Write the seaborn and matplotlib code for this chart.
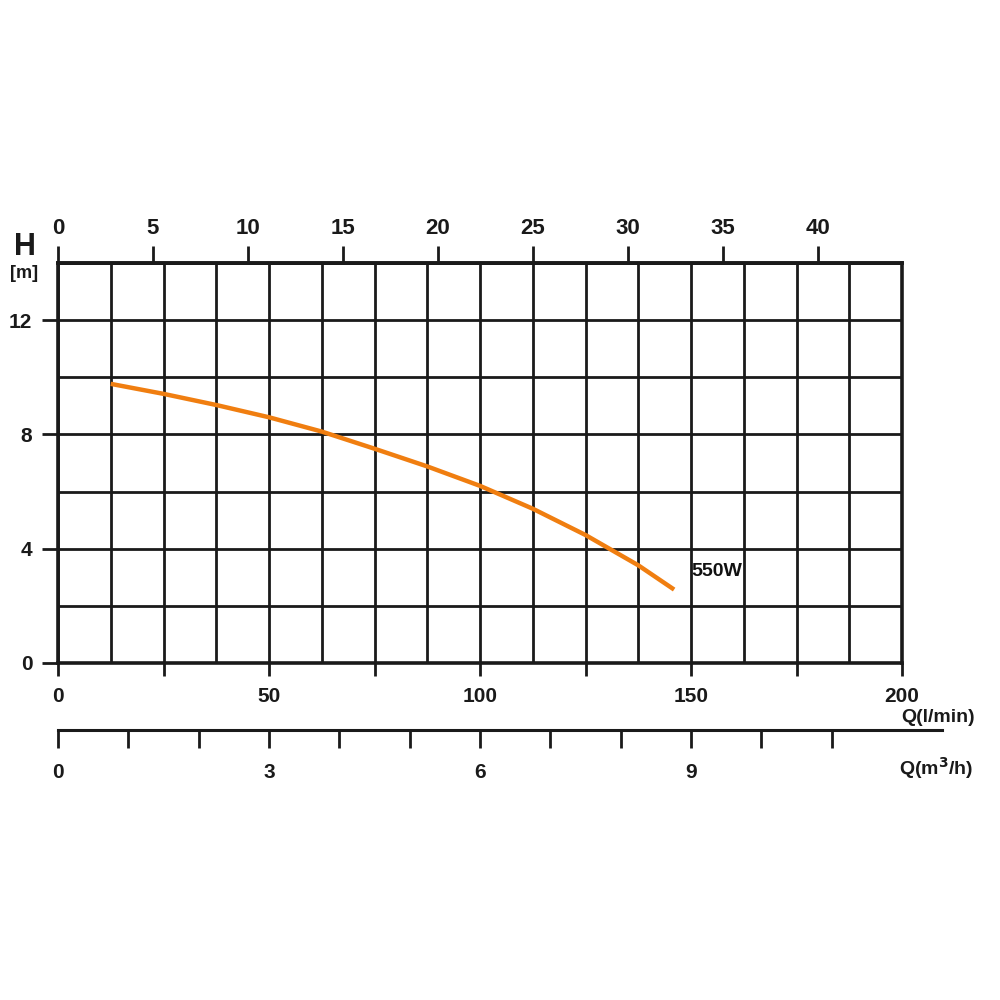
import matplotlib
matplotlib.use("Agg")
import matplotlib.pyplot as plt
from matplotlib.ticker import MultipleLocator
import seaborn as sns
import pandas as pd

# pump curve
flow_lmin = [12.5, 25, 37.5, 50, 62.5, 75, 87.5, 100, 112.5, 125, 137.5, 146]
head_m = [9.77, 9.42, 9.03, 8.60, 8.10, 7.50, 6.88, 6.20, 5.40, 4.48, 3.42, 2.57]
curve_label = "550W"

x_ticks = [0, 25, 50, 75, 100, 125, 150, 175, 200]
x_labels = ["0", "", "50", "", "100", "", "150", "", "200"]
y_ticks = [0, 4, 8, 12]
top_ticks = [0, 5, 10, 15, 20, 25, 30, 35, 40]      # gallons per minute
m3h_ticks = [0, 1, 2, 3, 4, 5, 6, 7, 8, 9, 10, 11]
m3h_labels = ["0", "", "", "3", "", "", "6", "", "", "9", "", ""]

GAL = 4.5          # l/min per gallon on the top scale
M3H = 1000 / 60.0  # l/min per m3/h

sns.set_theme(style="white")
plt.rcParams['font.family'] = ['Liberation Sans', 'DejaVu Sans']
plt.rcParams['font.weight'] = 'bold'

df = pd.DataFrame({"Q": flow_lmin, "H": head_m})

fig = plt.figure(figsize=(10, 10), dpi=100)
ax = fig.add_axes([0.058, 0.337, 0.844, 0.4])

sns.lineplot(data=df, x="Q", y="H", ax=ax, color="#F07E10", lw=3.2,
             solid_capstyle="butt", solid_joinstyle="round")
ax.text(150.2, 3.19, curve_label, fontsize=14, fontweight="bold",
        ha="left", va="center", color="#111111")

ax.set_xlim(0, 200)
ax.set_ylim(0, 14)
ax.set_xticks(x_ticks)
ax.set_xticklabels(x_labels)
ax.set_yticks(y_ticks)
ax.xaxis.set_minor_locator(MultipleLocator(12.5))
ax.yaxis.set_minor_locator(MultipleLocator(2))
ax.grid(which="both", color="#1a1a1a", lw=2)
ax.set_axisbelow(True)
ax.set_xlabel("")
ax.set_ylabel("")
for s in ax.spines.values():
    s.set_color("#1a1a1a")
    s.set_linewidth(2.6)
ax.tick_params(axis="x", which="major", direction="out", length=9.5, width=2,
               color="#1a1a1a", pad=8, labelsize=15, bottom=True)
ax.tick_params(axis="y", which="major", direction="out", length=11.5, width=2,
               color="#1a1a1a", pad=7, labelsize=15, left=True)
ax.tick_params(which="minor", length=0)
for t in ax.get_xticklabels() + ax.get_yticklabels():
    t.set_fontweight("bold")
    t.set_color("#1a1a1a")

# top gallon scale
top = ax.secondary_xaxis("top", functions=(lambda q: q / GAL, lambda g: g * GAL))
top.set_xticks(top_ticks)
top.tick_params(direction="out", length=12, width=2, color="#1a1a1a", pad=5,
                labelsize=16)
top.spines["top"].set_linewidth(2.6)
for t in top.get_xticklabels():
    t.set_fontweight("bold")
    t.set_color("#1a1a1a")

# m3/h scale
ax2 = fig.add_axes([0.058, 0.270, 0.884, 0.01])
ax2.set_xlim(0, 0.884 * 1000 / (0.844 * 1000 / 200) / M3H)
ax2.set_facecolor("none")
for k in ["top", "left", "right"]:
    ax2.spines[k].set_visible(False)
ax2.spines["bottom"].set_linewidth(2.2)
ax2.spines["bottom"].set_color("#1a1a1a")
ax2.set_yticks([])
ax2.set_xticks(m3h_ticks)
ax2.set_xticklabels(m3h_labels)
ax2.tick_params(axis="x", direction="out", length=13, width=2,
                color="#1a1a1a", pad=11, labelsize=15, bottom=True)
for t in ax2.get_xticklabels():
    t.set_fontweight("bold")
    t.set_color("#1a1a1a")

fig.text(0.025, 0.738, "H", fontsize=22, fontweight="bold", ha="center",
         va="bottom", color="#1a1a1a")
fig.text(0.024, 0.726, "[m]", fontsize=13, fontweight="bold", ha="center",
         va="center", color="#1a1a1a")
fig.text(0.938, 0.283, "Q(l/min)", fontsize=14, fontweight="bold",
         ha="center", va="center", color="#1a1a1a")
fig.text(0.936, 0.232, "Q(m$^3$/h)", fontsize=14, fontweight="bold",
         ha="center", va="center", color="#1a1a1a")

fig.savefig("out.png", dpi=100, facecolor="white")
